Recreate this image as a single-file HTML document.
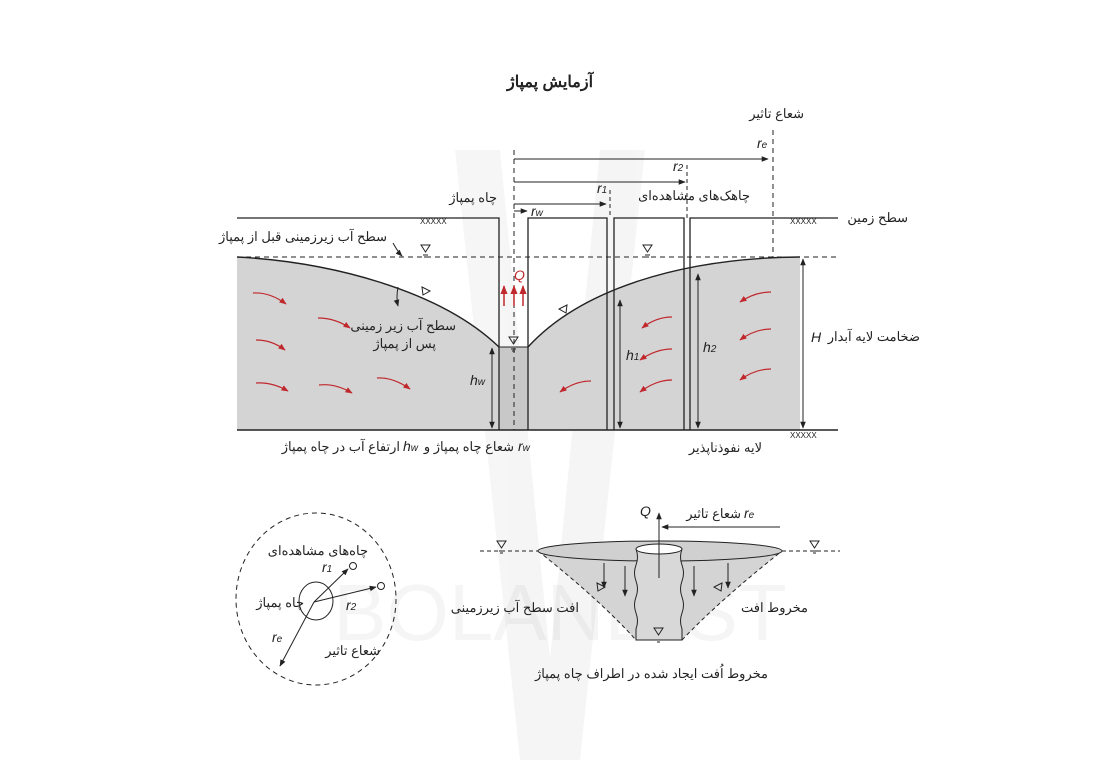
<!DOCTYPE html>
<html><head><meta charset="utf-8"><style>
body{margin:0;background:#fff}
svg{display:block}
text{font-family:"Liberation Sans","Noto Sans CJK SC",sans-serif;fill:#222}
.fa{font-size:13px}
.it{font-style:italic;font-size:14px}
.sb{font-size:10px}
</style></head><body>
<svg width="1100" height="770" viewBox="0 0 1100 770" xmlns="http://www.w3.org/2000/svg">
<defs>
<marker id="a" viewBox="0 0 10 10" refX="9" refY="5" markerWidth="7" markerHeight="7" orient="auto-start-reverse"><path d="M0,1 L10,5 L0,9 z" fill="#222"/></marker>
<marker id="r" viewBox="0 0 10 10" refX="9" refY="5" markerWidth="6" markerHeight="6" orient="auto"><path d="M0,1 L10,5 L0,9 z" fill="#c0282d"/></marker>
</defs>
<!-- watermark -->
<g opacity="0.035" fill="#000">
<polygon points="455,150 500,150 560,760 520,760"/><polygon points="600,150 645,150 580,760 540,760"/>
</g>
<text x="560" y="640" font-size="80" text-anchor="middle" fill="#000" opacity="0.04" style="font-family:'Liberation Sans'">BOLANDIST</text>

<text x="550" y="87" font-size="16" font-weight="bold" text-anchor="middle">آزمایش پمپاژ</text>

<!-- gray aquifer -->
<path d="M237,257 C330,262 440,290 499,347 L528,347 C580,290 680,258 800,257 L800,430 L237,430 Z" fill="#d4d4d4"/>
<rect x="499" y="347" width="29" height="83" fill="#c8c8c8"/>
<path d="M237,257 C330,262 440,290 499,347 M528,347 C580,290 680,258 800,257" fill="none" stroke="#222" stroke-width="1.4"/>
<line x1="499" y1="347" x2="528" y2="347" stroke="#222"/>
<line x1="237" y1="257" x2="838" y2="257" stroke="#222" stroke-dasharray="5,4"/>
<path d="M237,218 H499 V430 M528,430 V218 H607 V430 M614,430 V218 H684 V430 M690,430 V218 H838" fill="none" stroke="#222" stroke-width="1.3"/>
<line x1="237" y1="430" x2="838" y2="430" stroke="#222" stroke-width="1.5"/>
<text x="420" y="224" font-size="8" fill="#444">XXXXX</text>
<text x="790" y="224" font-size="8" fill="#444">XXXXX</text>
<text x="790" y="438" font-size="8" fill="#444">XXXXX</text>
<line x1="514" y1="150" x2="514" y2="430" stroke="#222" stroke-dasharray="5,4"/>
<line x1="610" y1="190" x2="610" y2="218" stroke="#222" stroke-dasharray="4,3"/>
<line x1="687" y1="165" x2="687" y2="218" stroke="#222" stroke-dasharray="4,3"/>
<line x1="773" y1="130" x2="773" y2="257" stroke="#222" stroke-dasharray="5,4"/>
<line x1="514" y1="159" x2="768" y2="159" stroke="#222" marker-end="url(#a)"/>
<line x1="514" y1="182" x2="685" y2="182" stroke="#222" marker-end="url(#a)"/>
<line x1="514" y1="204" x2="606" y2="204" stroke="#222" marker-end="url(#a)"/>
<line x1="514" y1="211" x2="527" y2="211" stroke="#222" marker-end="url(#a)"/>
<text x="757" y="148" class="it">r<tspan class="sb">e</tspan></text>
<text x="673" y="171" class="it">r<tspan class="sb">2</tspan></text>
<text x="597" y="193" class="it">r<tspan class="sb">1</tspan></text>
<text x="531" y="216" class="it">r<tspan class="sb">w</tspan></text>
<text x="804" y="118" class="fa" text-anchor="end">شعاع تاثیر</text>
<text x="750" y="200" class="fa" text-anchor="end">چاهک‌های مشاهده‌ای</text>
<text x="497" y="202" class="fa" text-anchor="end">چاه پمپاژ</text>
<text x="908" y="222" class="fa" text-anchor="end">سطح زمین</text>
<text x="387" y="241" class="fa" text-anchor="end">سطح آب زیرزمینی قبل از پمپاژ</text>
<path d="M393,243 Q398,252 402,256" fill="none" stroke="#222" marker-end="url(#a)"/>
<g fill="none" stroke="#222">
<path d="M421,245 h9 l-4.5,7 z M423,255 h5 M424,257 h3"/>
<path d="M643,245 h9 l-4.5,7 z M645,255 h5 M646,257 h3"/>
<path d="M509,337 h9 l-4.5,7 z M511,349 h5 M512,351 h3"/>
<path d="M422,287 l8,4 l-7,4 z"/>
<path d="M567,305 l-8,4 l7,4 z"/>
</g>
<g stroke="#c0282d" stroke-width="1.5">
<line x1="504" y1="306" x2="504" y2="286" marker-end="url(#r)"/>
<line x1="514" y1="306" x2="514" y2="286" marker-end="url(#r)"/>
<line x1="523" y1="306" x2="523" y2="286" marker-end="url(#r)"/>
</g>
<text x="514" y="280" class="it" style="fill:#c0282d">Q</text>
<path d="M398,287 Q396,298 398,306" fill="none" stroke="#222" marker-end="url(#a)"/>
<text x="456" y="330" class="fa" text-anchor="end">سطح آب زیر زمینی</text>
<text x="436" y="348" class="fa" text-anchor="end">پس از پمپاژ</text>
<line x1="492" y1="348" x2="492" y2="428" stroke="#222" marker-start="url(#a)" marker-end="url(#a)"/>
<line x1="620" y1="300" x2="620" y2="428" stroke="#222" marker-start="url(#a)" marker-end="url(#a)"/>
<line x1="698" y1="274" x2="698" y2="428" stroke="#222" marker-start="url(#a)" marker-end="url(#a)"/>
<line x1="803" y1="259" x2="803" y2="428" stroke="#222" marker-start="url(#a)" marker-end="url(#a)"/>
<text x="470" y="385" class="it">h<tspan class="sb">w</tspan></text>
<text x="626" y="360" class="it">h<tspan class="sb">1</tspan></text>
<text x="703" y="352" class="it">h<tspan class="sb">2</tspan></text>
<text x="811" y="342" class="it">H</text>
<text x="920" y="341" class="fa" text-anchor="end">ضخامت لایه آبدار</text>
<g fill="none" stroke="#c0282d" stroke-width="1.2">
<path d="M253,293 Q270,292 286,304" marker-end="url(#r)"/>
<path d="M318,318 Q335,318 350,328" marker-end="url(#r)"/>
<path d="M256,340 Q272,340 285,350" marker-end="url(#r)"/>
<path d="M256,383 Q272,382 288,391" marker-end="url(#r)"/>
<path d="M319,385 Q335,383 352,393" marker-end="url(#r)"/>
<path d="M377,378 Q393,377 410,389" marker-end="url(#r)"/>
<path d="M672,317 Q656,317 642,328" marker-end="url(#r)"/>
<path d="M672,349 Q656,349 640,360" marker-end="url(#r)"/>
<path d="M672,380 Q656,380 640,392" marker-end="url(#r)"/>
<path d="M591,381 Q575,381 560,392" marker-end="url(#r)"/>
<path d="M771,292 Q755,292 740,302" marker-end="url(#r)"/>
<path d="M771,329 Q755,329 740,340" marker-end="url(#r)"/>
<path d="M771,369 Q755,369 740,380" marker-end="url(#r)"/>
</g>
<text x="400" y="451" class="fa" text-anchor="end">ارتفاع آب در چاه پمپاژ</text>
<text x="403" y="451" class="it">h<tspan class="sb">w</tspan></text>
<text x="514" y="451" class="fa" text-anchor="end">شعاع چاه پمپاژ و</text>
<text x="518" y="451" class="it">r<tspan class="sb">w</tspan></text>
<text x="762" y="452" class="fa" text-anchor="end">لایه نفوذناپذیر</text>

<!-- plan view -->
<ellipse cx="316" cy="599" rx="80" ry="86" fill="none" stroke="#222" stroke-dasharray="5,4"/>
<ellipse cx="316" cy="601" rx="17" ry="19" fill="none" stroke="#222"/>
<circle cx="353" cy="566" r="3.5" fill="#fff" stroke="#222"/>
<circle cx="381" cy="586" r="3.5" fill="#fff" stroke="#222"/>
<line x1="314" y1="602" x2="348" y2="569" stroke="#222" marker-end="url(#a)"/>
<line x1="314" y1="602" x2="376" y2="587" stroke="#222" marker-end="url(#a)"/>
<line x1="314" y1="602" x2="280" y2="666" stroke="#222" marker-end="url(#a)"/>
<text x="368" y="555" class="fa" text-anchor="end">چاه‌های مشاهده‌ای</text>
<text x="322" y="572" class="it">r<tspan class="sb">1</tspan></text>
<text x="346" y="610" class="it">r<tspan class="sb">2</tspan></text>
<text x="304" y="607" class="fa" text-anchor="end">چاه پمپاژ</text>
<text x="272" y="642" class="it">r<tspan class="sb">e</tspan></text>
<text x="380" y="655" class="fa" text-anchor="end">شعاع تاثیر</text>

<!-- cone -->
<path d="M538,551 Q600,600 636,640 L682,640 Q720,600 782,551 Z" fill="#d4d4d4"/>
<path d="M538,551 Q600,600 636,640 M682,640 Q720,600 782,551" fill="none" stroke="#222" stroke-dasharray="4,3"/>
<line x1="480" y1="551" x2="538" y2="551" stroke="#222" stroke-dasharray="4,3"/>
<line x1="782" y1="551" x2="840" y2="551" stroke="#222" stroke-dasharray="4,3"/>
<ellipse cx="660" cy="551" rx="122" ry="10" fill="#d0d0d0" stroke="#222"/>
<path d="M636,549 q3,8 0,16 q-3,8 0,16 q3,8 0,16 q-3,8 0,16 q3,8 0,16 V640 H682 V629 q-3,-8 0,-16 q3,-8 0,-16 q-3,-8 0,-16 q3,-8 0,-16 q-3,-8 0,-16" fill="#d8d8d8" stroke="#222"/>
<ellipse cx="659" cy="549" rx="23" ry="5" fill="#fff" stroke="#222"/>
<line x1="659" y1="578" x2="659" y2="513" stroke="#222" marker-end="url(#a)"/>
<text x="640" y="516" class="it">Q</text>
<line x1="662" y1="527" x2="780" y2="527" stroke="#222" marker-start="url(#a)"/>
<text x="741" y="518" class="fa" text-anchor="end">شعاع تاثیر</text>
<text x="744" y="518" class="it">r<tspan class="sb">e</tspan></text>
<g stroke="#222">
<line x1="604" y1="563" x2="604" y2="588" marker-end="url(#a)"/>
<line x1="625" y1="566" x2="625" y2="596" marker-end="url(#a)"/>
<line x1="694" y1="566" x2="694" y2="596" marker-end="url(#a)"/>
<line x1="728" y1="563" x2="728" y2="588" marker-end="url(#a)"/>
</g>
<g fill="none" stroke="#222">
<path d="M497,541 h9 l-4.5,7 z M499,551 h5 M500,553 h3"/>
<path d="M810,541 h9 l-4.5,7 z M812,551 h5 M813,553 h3"/>
<path d="M654,628 h9 l-4.5,7 z M656,640 h5 M657,642 h3"/>
<path d="M597,583 l8,4 l-7,4 z"/>
<path d="M722,583 l-8,4 l7,4 z"/>
</g>
<text x="579" y="612" class="fa" text-anchor="end">افت سطح آب زیرزمینی</text>
<text x="808" y="612" class="fa" text-anchor="end">مخروط افت</text>
<text x="768" y="678" class="fa" text-anchor="end">مخروط اُفت ایجاد شده در اطراف چاه پمپاژ</text>
</svg>
</body></html>
